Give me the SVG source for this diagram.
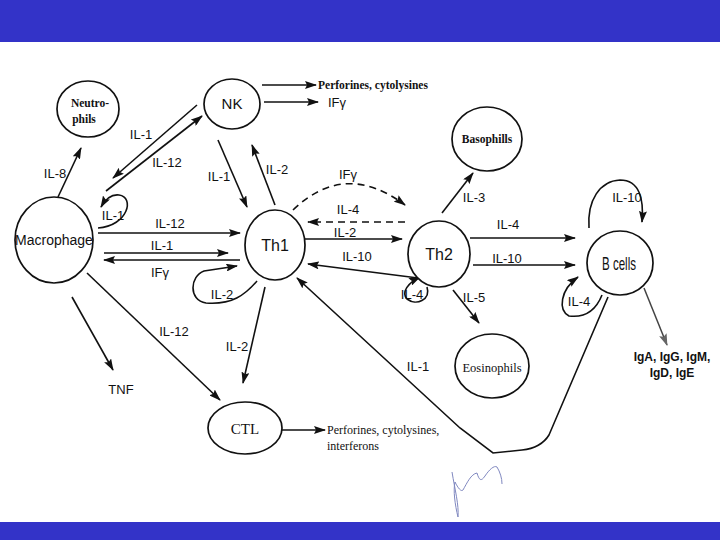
<svg xmlns="http://www.w3.org/2000/svg" width="720" height="540" viewBox="0 0 720 540">
<defs>
<marker id="ah" markerUnits="userSpaceOnUse" markerWidth="12" markerHeight="8" refX="11" refY="4" orient="auto">
<path d="M0,0 L12,4 L0,8 L2,4 z" fill="#111"/>
</marker>
<marker id="ahg" markerUnits="userSpaceOnUse" markerWidth="12" markerHeight="8" refX="11" refY="4" orient="auto">
<path d="M0,0 L12,4 L0,8 L2,4 z" fill="#666"/>
</marker>
<style>
.node{fill:#fff;stroke:#111;stroke-width:1.7}
.c{fill:none;stroke:#111;stroke-width:1.6;marker-end:url(#ah)}
.d{stroke-dasharray:7 5}
.lb{font-family:"Liberation Sans",Arial,sans-serif;font-size:13px;fill:#111}
.sf{font-family:"Liberation Serif","Times New Roman",serif;fill:#111}
.ss{font-family:"Liberation Sans",Arial,sans-serif;fill:#111}
</style>
</defs>
<rect x="0" y="0" width="720" height="42" fill="#3333c8"/>
<rect x="0" y="522" width="720" height="18" fill="#3333c8"/>

<g id="connectors">
<path class="c" d="M58,197 L81,148"/>
<path class="c" d="M197,105 L113,178"/>
<path class="c" d="M106,191 L202,116"/>
<path class="c" d="M98,228 C128,226 135,197 119,195 C111,194 105,200 101,207"/>
<path class="c" d="M98,233 L240,233"/>
<path class="c" d="M104,253 L228,253"/>
<path class="c" d="M240,260 L104,260"/>
<path class="c" d="M257,281 C245,295 232,305 206,303 C188,300 190,276 204,271 L237,266"/>
<path class="c" d="M218,140 L247,207"/>
<path class="c" d="M275,205 L252,145"/>
<path class="c" d="M262,85 L316,85"/>
<path class="c" d="M264,102 L318,102"/>
<path class="c d" d="M293,210 Q345,160 405,205"/>
<path class="c d" d="M405,222 L308,222"/>
<path class="c" d="M305,239 L402,239"/>
<path class="c" d="M418,278 L308,264"/>
<path class="c" d="M427,287 C431,300 416,306 407,299 C401,292 408,283 420,277"/>
<path class="c" d="M442,213 L473,173"/>
<path class="c" d="M470,238 L575,238"/>
<path class="c" d="M473,265 L575,265"/>
<path class="c" d="M453,290 L479,323"/>
<path class="c" d="M589,228 C587,200 600,181 620,180 C640,180 644,200 642,222"/>
<path class="c" d="M602,295 C596,310 585,318 569,316 C558,310 560,290 578,277"/>
<path d="M644,288 L667,345" fill="none" stroke="#444" stroke-width="1.5" marker-end="url(#ahg)"/>
<path class="c" d="M608,297 L549,435 Q541,448 522,450 L493,453 L460,428 L297,278"/>
<path class="c" d="M72,297 L113,370"/>
<path class="c" d="M87,273 L220,400"/>
<path class="c" d="M265,287 L243,383"/>
<path class="c" d="M282,430 L325,430"/>
</g>

<g id="neutrophils">
<ellipse class="node" cx="88" cy="109" rx="31" ry="28"/>
<text class="sf" x="90" y="107" font-size="11.5" font-weight="bold" text-anchor="middle">Neutro-</text>
<text class="sf" x="84" y="123" font-size="11.5" font-weight="bold" text-anchor="middle">phils</text>
</g>
<g id="nk">
<ellipse class="node" cx="232" cy="104" rx="28" ry="25"/>
<text class="ss" x="232" y="109" font-size="15" text-anchor="middle">NK</text>
</g>
<g id="macrophage">
<ellipse class="node" cx="54" cy="240" rx="39" ry="43"/>
<text class="ss" x="54" y="245" font-size="14" text-anchor="middle">Macrophage</text>
</g>
<g id="th1">
<ellipse class="node" cx="275" cy="245" rx="30" ry="35"/>
<text class="ss" x="275" y="251" font-size="16" text-anchor="middle">Th1</text>
</g>
<g id="th2">
<ellipse class="node" cx="439" cy="254" rx="31" ry="33"/>
<text class="ss" x="439" y="260" font-size="16" text-anchor="middle">Th2</text>
</g>
<g id="basophills">
<ellipse class="node" cx="487" cy="139" rx="35" ry="32"/>
<text class="sf" x="487" y="143" font-size="11.5" font-weight="bold" text-anchor="middle">Basophills</text>
</g>
<g id="bcells">
<ellipse class="node" cx="620" cy="263" rx="33" ry="32"/>
<text class="ss" x="619" y="270" font-size="19" text-anchor="middle" textLength="34" lengthAdjust="spacingAndGlyphs">B cells</text>
</g>
<g id="eosinophils">
<ellipse class="node" cx="492" cy="366" rx="37" ry="32"/>
<text class="sf" x="492" y="372" font-size="12.5" text-anchor="middle">Eosinophils</text>
</g>
<g id="ctl">
<ellipse class="node" cx="245" cy="428" rx="37" ry="26"/>
<text class="sf" x="245" y="434" font-size="15" text-anchor="middle">CTL</text>
</g>

<g id="labels">
<text class="lb" x="55" y="178" text-anchor="middle">IL-8</text>
<text class="lb" x="141" y="139" text-anchor="middle">IL-1</text>
<text class="lb" x="167" y="167" text-anchor="middle">IL-12</text>
<text class="lb" x="113" y="220" text-anchor="middle">IL-1</text>
<text class="lb" x="170" y="228" text-anchor="middle">IL-12</text>
<text class="lb" x="162" y="250" text-anchor="middle">IL-1</text>
<text class="lb" x="160" y="277" text-anchor="middle">IFγ</text>
<text class="lb" x="222" y="299" text-anchor="middle">IL-2</text>
<text class="lb" x="219" y="181" text-anchor="middle">IL-1</text>
<text class="lb" x="277" y="174" text-anchor="middle">IL-2</text>
<text class="sf" x="318" y="89" font-size="11.5" font-weight="bold">Perforines, cytolysines</text>
<text class="ss" x="328" y="107" font-size="13">IFγ</text>
<text class="lb" x="348" y="179" text-anchor="middle">IFγ</text>
<text class="lb" x="348" y="214" text-anchor="middle">IL-4</text>
<text class="lb" x="345" y="237" text-anchor="middle">IL-2</text>
<text class="lb" x="357" y="261" text-anchor="middle">IL-10</text>
<text class="lb" x="412" y="299" text-anchor="middle">IL-4</text>
<text class="lb" x="474" y="202" text-anchor="middle">IL-3</text>
<text class="lb" x="508" y="229" text-anchor="middle">IL-4</text>
<text class="lb" x="507" y="263" text-anchor="middle">IL-10</text>
<text class="lb" x="474" y="302" text-anchor="middle">IL-5</text>
<text class="lb" x="627" y="202" text-anchor="middle">IL-10</text>
<text class="lb" x="579" y="306" text-anchor="middle">IL-4</text>
<text class="ss" x="672" y="361" font-size="12" font-weight="bold" text-anchor="middle">IgA, IgG, IgM,</text>
<text class="ss" x="672" y="377" font-size="12" font-weight="bold" text-anchor="middle">IgD, IgE</text>
<text class="lb" x="418" y="371" text-anchor="middle">IL-1</text>
<text class="ss" x="121" y="394" font-size="13" text-anchor="middle">TNF</text>
<text class="lb" x="174" y="336" text-anchor="middle">IL-12</text>
<text class="lb" x="237" y="351" text-anchor="middle">IL-2</text>
<text class="sf" x="327" y="434" font-size="12">Perforines, cytolysines,</text>
<text class="sf" x="327" y="450" font-size="12">interferons</text>
</g>

<path d="M452,472 C455,490 459,505 458,517 C455,505 453,490 455,482 C458,488 461,492 463,490 C467,483 471,474 477,473 C479,480 481,482 485,476 C489,470 494,465 497,467 C500,472 502,478 502,484" fill="none" stroke="#8088c0" stroke-width="1"/>
</svg>
